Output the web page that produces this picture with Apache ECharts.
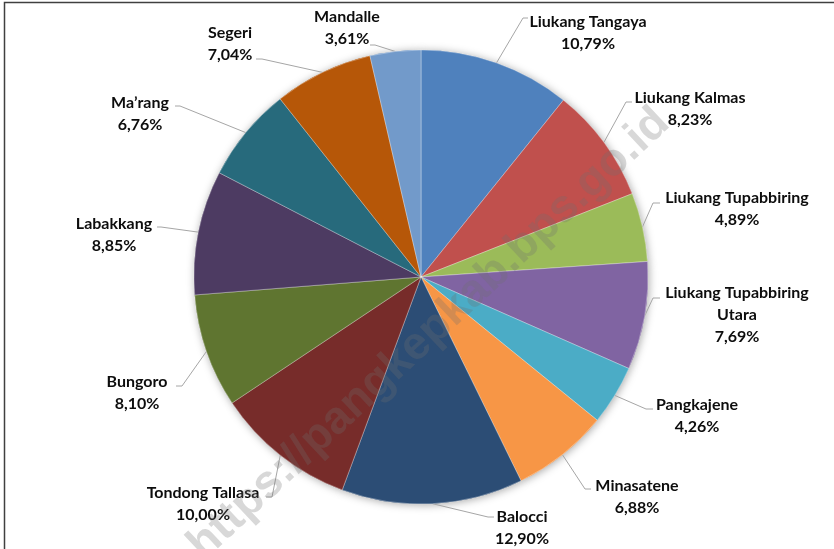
<!DOCTYPE html>
<html>
<head>
<meta charset="utf-8">
<script src="https://cdn.jsdelivr.net/npm/echarts@6/dist/echarts.min.js"></script>
<style>
  html, body { margin: 0; padding: 0; background: #ffffff; }
  #chart { width: 834px; height: 549px; }
</style>
</head>
<body>
<div id="chart"></div>
<script>
// ---- data ----
var categories = ['Liukang Tangaya', 'Liukang Kalmas', 'Liukang Tupabbiring', 'Liukang Tupabbiring Utara',
  'Pangkajene', 'Minasatene', 'Balocci', 'Tondong Tallasa', 'Bungoro', 'Labakkang', 'Ma\u2019rang', 'Segeri', 'Mandalle'];
var shares = [10.79, 8.23, 4.89, 7.69, 4.26, 6.88, 12.90, 10.00, 8.10, 8.85, 6.76, 7.04, 3.61];
var watermark = 'https://pangkepkab.bps.go.id';

// ---- styling / layout ----
var colors = ['#4F81BD', '#C0504D', '#9BBB59', '#8064A2', '#4BACC6', '#F79646',
  '#2C4D75', '#772C2A', '#5F7530', '#4D3B62', '#276A7C', '#B65708', '#729ACA'];
var CX = 421, CY = 277, R = 227, LH = 22;
// label spots: [text centre x, first line centre y, line end x, line end y, elbow x]
var spots = [
  [588, 22, 528, 18, 523],
  [690, 98, 632, 102, 626],
  [737, 198, 660, 203, 653],
  [737, 293, 660, 298, 653],
  [697, 405, 653, 409, 646],
  [637, 486, 591, 489, 585],
  [522, 517, 494, 517, 488],
  [203, 493, 266, 497, 272],
  [137, 382, 176, 386, 182],
  [114, 224, 157, 227, 161],
  [140, 103, 175, 106, 180],
  [230, 33, 256, 59, 262],
  [347, 17, 370, 45, 375]
];

var total = shares.reduce(function (a, b) { return a + b; }, 0);
function edgePoint(i) {
  var before = 0;
  for (var k = 0; k < i; k++) before += shares[k];
  var mid = (before + shares[i] / 2) / total * Math.PI * 2;
  return [CX + R * Math.sin(mid), CY - R * Math.cos(mid)];
}

function fmtLabel(p) {
  var name = p.name;
  if (name.length > 20) {
    var idx = name.lastIndexOf(' ');
    name = name.slice(0, idx) + '\n' + name.slice(idx + 1);
  }
  return name + '\n' + p.value.toFixed(2).replace('.', ',') + '%';
}

var pieData = categories.map(function (c, i) {
  return { name: c, value: shares[i], itemStyle: { color: colors[i] } };
});

var chart = echarts.init(document.getElementById('chart'), null, { renderer: 'canvas' });
chart.setOption({
  backgroundColor: '#ffffff',
  animation: false,
  graphic: [
    {
      type: 'rect', silent: true, z: 0,
      shape: { x: 4.5, y: 2.5, width: 1000, height: 1000 },
      style: { fill: 'none', stroke: '#404040', lineWidth: 1.5 }
    },
    {
      type: 'text', silent: true, z: 100,
      x: 429, y: 334, rotation: 43 * Math.PI / 180,
      style: {
        text: watermark,
        font: 'bold 46px "Liberation Sans", Arial, sans-serif',
        fill: 'rgba(110,110,110,0.27)',
        align: 'center', verticalAlign: 'middle'
      }
    }
  ],
  series: [
    {
      // shadow layer
      type: 'pie', silent: true, z: 1,
      center: [CX, CY], radius: R, startAngle: 90, clockwise: true,
      data: pieData,
      label: { show: false }, labelLine: { show: false },
      itemStyle: { shadowBlur: 8, shadowColor: 'rgba(0,0,0,0.35)', shadowOffsetX: 1, shadowOffsetY: 1 },
      emphasis: { disabled: true }
    },
    {
      type: 'pie', z: 2,
      center: [CX, CY], radius: R, startAngle: 90, clockwise: true,
      avoidLabelOverlap: false,
      data: pieData,
      itemStyle: { borderColor: 'rgba(255,255,255,0.55)', borderWidth: 0.6 },
      label: {
        show: true, position: 'outside',
        formatter: fmtLabel,
        fontFamily: 'Lato, "Open Sans", sans-serif',
        fontWeight: 'bold', fontSize: 16, lineHeight: LH,
        color: '#0d0d0d', align: 'center'
      },
      labelLine: { show: true, length: 10, length2: 10, lineStyle: { color: '#a6a6a6', width: 1 } },
      labelLayout: function (p) {
        var s = spots[p.dataIndex];
        var edge = edgePoint(p.dataIndex);
        return {
          x: s[0], y: s[1] - LH / 2, align: 'center', verticalAlign: 'top',
          labelLinePoints: [edge, [s[4], s[3]], [s[2], s[3]]]
        };
      },
      emphasis: { disabled: true }
    }
  ]
});
</script>
</body>
</html>
